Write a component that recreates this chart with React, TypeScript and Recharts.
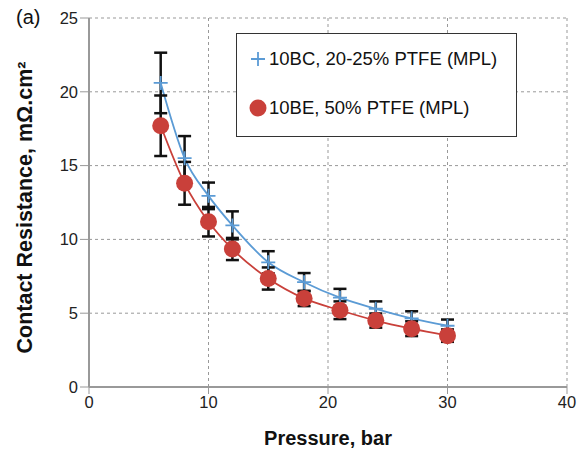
import React from 'react';
import { ComposedChart, Line, XAxis, YAxis, CartesianGrid, ErrorBar, Legend } from 'recharts';

const pressure = [6, 8, 10, 12, 15, 18, 21, 24, 27, 30];
const blueValues = [20.6, 15.5, 12.95, 10.95, 8.45, 7.1, 6.05, 5.3, 4.65, 4.15];
const blueErrors = [2.05, 1.5, 0.9, 0.95, 0.75, 0.62, 0.6, 0.5, 0.48, 0.42];
const redValues = [17.7, 13.8, 11.2, 9.35, 7.35, 6.0, 5.2, 4.5, 3.95, 3.48];
const redErrors = [2.05, 1.45, 1.0, 0.75, 0.75, 0.52, 0.6, 0.48, 0.5, 0.42];
const xTicks = [0, 10, 20, 30, 40];
const yTicks = [0, 5, 10, 15, 20, 25];
const blueName = '10BC, 20-25% PTFE (MPL)';
const redName = '10BE, 50% PTFE (MPL)';

const BLUE = '#5b9bd5';
const RED = '#c9403a';
const FONT = '"Liberation Sans", Arial, sans-serif';

const data = pressure.map((p, i) => ({
  p,
  blue: blueValues[i],
  blueErr: blueErrors[i],
  red: redValues[i],
  redErr: redErrors[i],
}));

const PlusDot = (props: any) => {
  const { cx, cy, index } = props;
  if (cx == null || cy == null) return <g key={index} />;
  return (
    <path
      key={`b${index}`}
      d={`M${cx - 7},${cy} L${cx + 7},${cy} M${cx},${cy - 7} L${cx},${cy + 7}`}
      stroke={BLUE}
      strokeWidth={1.8}
      fill="none"
    />
  );
};

const CircleDot = (props: any) => {
  const { cx, cy, index } = props;
  if (cx == null || cy == null) return <g key={index} />;
  return <circle key={`r${index}`} cx={cx} cy={cy} r={8.5} fill={RED} stroke="none" />;
};

const LegendBox = () => (
  <div
    style={{
      width: 281,
      height: 104,
      border: '1.5px solid #333',
      background: '#fff',
      fontFamily: FONT,
      fontSize: 18.5,
      color: '#111',
      boxSizing: 'border-box',
      position: 'relative',
    }}
  >
    <div style={{ position: 'absolute', left: 12, top: 14, display: 'flex', alignItems: 'center' }}>
      <svg width={18} height={18} style={{ marginRight: 2 }}>
        <path d="M2,9 L16,9 M9,2 L9,16" stroke={BLUE} strokeWidth={1.8} />
      </svg>
      <span>{blueName}</span>
    </div>
    <div style={{ position: 'absolute', left: 12, top: 63, display: 'flex', alignItems: 'center' }}>
      <svg width={18} height={18} style={{ marginRight: 2 }}>
        <circle cx={9} cy={9} r={8.5} fill={RED} />
      </svg>
      <span>{redName}</span>
    </div>
  </div>
);

const YLabel = (props: any) => {
  const vb = props.viewBox || {};
  const cy = (vb.y ?? 18) + (vb.height ?? 368) / 2 + 5;
  const cx = 25;
  return (
    <text
      x={cx}
      y={cy}
      transform={`rotate(-90, ${cx}, ${cy})`}
      textAnchor="middle"
      dominantBaseline="central"
      style={{ fontFamily: FONT, fontSize: 21.5, fontWeight: 'bold', fill: '#111' }}
    >
      Contact Resistance, mΩ.cm²
    </text>
  );
};

export default function App() {
  return (
    <div style={{ position: 'absolute', left: 0, top: 0, width: 587, height: 452, background: '#fff' }}>
      <div style={{ position: 'absolute', left: 16, top: 6, fontFamily: FONT, fontSize: 20, color: '#111' }}>(a)</div>
      <ComposedChart
        width={587}
        height={452}
        data={data}
        margin={{ top: 18, right: 20, bottom: 0, left: 0 }}
      >
        <CartesianGrid stroke="#999" strokeDasharray="3 3" strokeWidth={1} />
        <XAxis
          dataKey="p"
          type="number"
          domain={[0, 40]}
          ticks={xTicks}
          height={65}
          axisLine={{ stroke: '#999', strokeWidth: 2 }}
          tickLine={{ stroke: '#999', strokeWidth: 1 }}
          tickSize={7}
          tick={{ fill: '#222', fontSize: 16.5, fontFamily: FONT }}
          label={{ value: 'Pressure, bar', position: 'insideBottom', offset: 7, style: { fontFamily: FONT, fontSize: 20, fontWeight: 'bold', fill: '#111' } }}
        />
        <YAxis
          type="number"
          domain={[0, 25]}
          ticks={yTicks}
          width={89}
          axisLine={{ stroke: '#999', strokeWidth: 2 }}
          tickLine={{ stroke: '#999', strokeWidth: 1 }}
          tickSize={9}
          tick={{ fill: '#222', fontSize: 16.5, fontFamily: FONT }}
          label={<YLabel />}
        />
        <Legend
          layout="vertical"
          align="center"
          verticalAlign="middle"
          wrapperStyle={{ left: 236, top: 33, width: 281, height: 104 }}
          content={() => <LegendBox />}
        />
        <Line
          type="monotone"
          dataKey="blue"
          name={blueName}
          stroke={BLUE}
          strokeWidth={1.8}
          dot={PlusDot}
          activeDot={false}
          isAnimationActive={false}
        >
          <ErrorBar dataKey="blueErr" direction="y" width={6.5} stroke="#111" strokeWidth={2.5} />
        </Line>
        <Line
          type="monotone"
          dataKey="red"
          name={redName}
          stroke={RED}
          strokeWidth={1.8}
          dot={CircleDot}
          activeDot={false}
          isAnimationActive={false}
        >
          <ErrorBar dataKey="redErr" direction="y" width={6.5} stroke="#111" strokeWidth={2.5} />
        </Line>
      </ComposedChart>
    </div>
  );
}
